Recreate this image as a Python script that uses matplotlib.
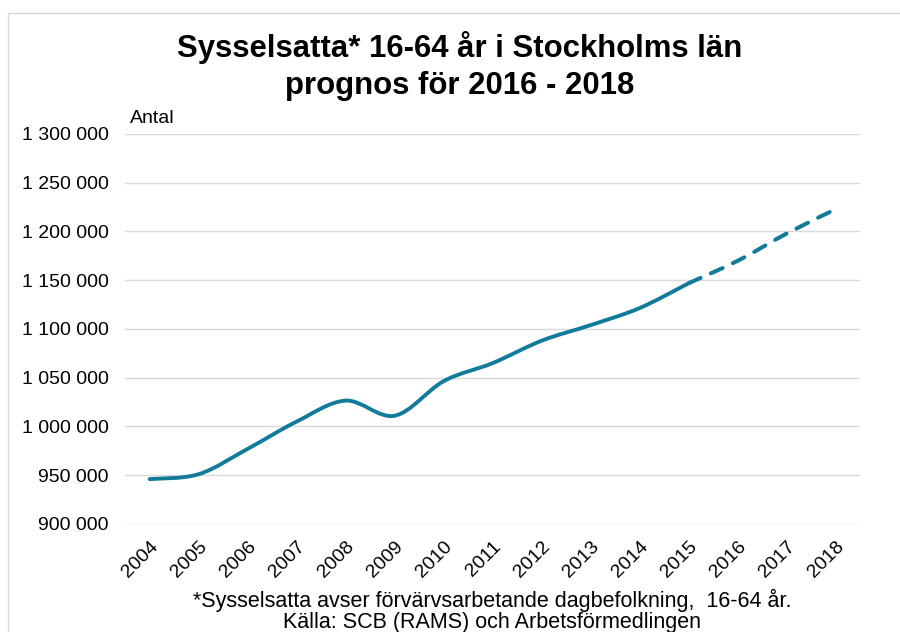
import numpy as np
import matplotlib.pyplot as plt
from matplotlib.path import Path
from matplotlib.patches import PathPatch
from matplotlib.ticker import FuncFormatter

plt.rcParams['font.family'] = ['Liberation Sans', 'DejaVu Sans']

years = ['2004', '2005', '2006', '2007', '2008', '2009', '2010', '2011',
         '2012', '2013', '2014', '2015', '2016', '2017', '2018']
antal = [946000, 951000, 977000, 1005000, 1026500, 1011000, 1046500, 1065000,
         1088000, 1104000, 1121500, 1147000, 1170000, 1198000, 1223000]
prognos_start = 11  # index of 2015, forecast from here on

color = '#127b9c'


def smooth_path(x, y):
    # Excel-like smoothed line: cubic bezier through every point
    pts = np.column_stack([x, y]).astype(float)
    n = len(pts)
    verts = [pts[0]]
    codes = [Path.MOVETO]
    for i in range(n - 1):
        p0 = pts[max(i - 1, 0)]
        p1 = pts[i]
        p2 = pts[i + 1]
        p3 = pts[min(i + 2, n - 1)]
        c1 = p1 + (p2 - p0) / 6
        c2 = p2 - (p3 - p1) / 6
        verts += [c1, c2, p2]
        codes += [Path.CURVE4] * 3
    return Path(verts, codes)


fig = plt.figure(figsize=(9, 6.32), dpi=100)
ax = fig.add_axes([0.139, 0.171, 0.817, 0.617])

x = np.arange(len(years))
solid = smooth_path(x[:prognos_start + 1], antal[:prognos_start + 1])
dashed = smooth_path(x[prognos_start:], antal[prognos_start:])
ax.add_patch(PathPatch(solid, fill=False, edgecolor=color, lw=2.8,
                       capstyle='round', joinstyle='round'))
ax.add_patch(PathPatch(dashed, fill=False, edgecolor=color, lw=2.9,
                       linestyle=(0, (3.2, 2.8)), capstyle='round'))

ax.set_xlim(-0.5, len(years) - 0.5)
ax.set_ylim(900000, 1300000)
ax.set_yticks(np.arange(900000, 1300001, 50000))
ax.yaxis.set_major_formatter(FuncFormatter(lambda v, p: f'{int(v):,}'.replace(',', ' ')))
ax.set_xticks(x)
ax.set_xticklabels(years, rotation=45, ha='right', rotation_mode='anchor')
ax.tick_params(axis='both', length=0, labelsize=14, colors='black')
ax.tick_params(axis='y', pad=12)
ax.tick_params(axis='x', pad=10)
ax.grid(axis='y', color='#d9d9d9', lw=1)
ax.set_axisbelow(True)
for s in ax.spines.values():
    s.set_visible(False)

fig.text(0.144, 0.805, 'Antal', fontsize=14)
fig.text(0.511, 0.895, 'Sysselsatta* 16-64 år i Stockholms län\nprognos för 2016 - 2018',
         ha='center', va='center', fontsize=22.4, fontweight='bold', linespacing=1.3)
fig.text(0.547, 0.033, '*Sysselsatta avser förvärvsarbetande dagbefolkning,  16-64 år.\n'
         'Källa: SCB (RAMS) och Arbetsförmedlingen',
         ha='center', va='center', fontsize=15.5, linespacing=1.0)

# light frame of the original chart area
fig.add_artist(plt.Line2D([0.009, 1.0], [0.979, 0.979], color='#d9d9d9', lw=1))
fig.add_artist(plt.Line2D([0.009, 0.009], [0.0, 0.979], color='#d9d9d9', lw=1))

fig.savefig('out.png', dpi=100)
